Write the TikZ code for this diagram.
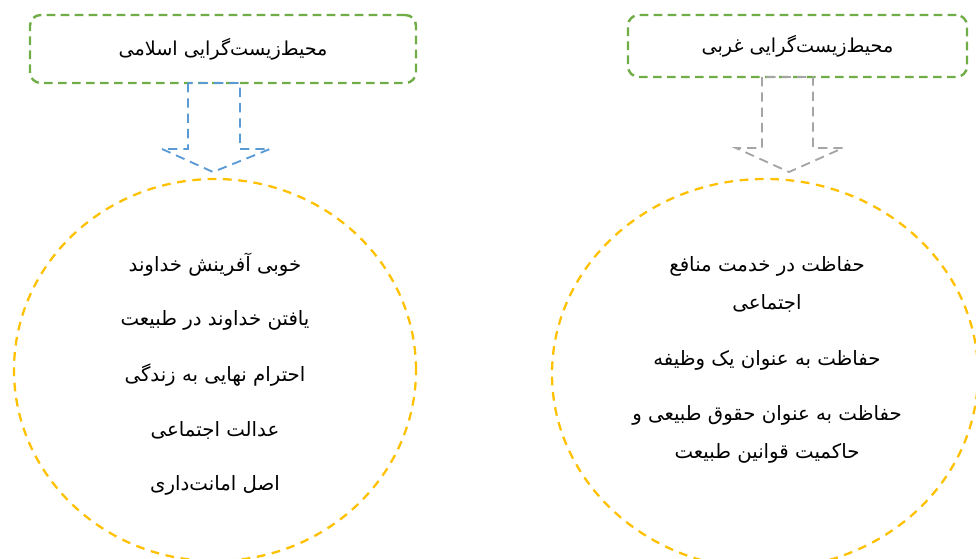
\documentclass[tikz,border=0pt]{standalone}
\usepackage{fontspec}
\usetikzlibrary{shapes.geometric}
\TeXXeTstate=1
\newfontfamily\arabicfont[Script=Arabic]{DejaVu Sans}
\definecolor{boxgreen}{HTML}{70AD47}
\definecolor{arrblue}{HTML}{5B9BD5}
\definecolor{arrgray}{HTML}{A5A5A5}
\definecolor{circyellow}{HTML}{FFC000}
\tikzset{
  topbox/.style={draw=boxgreen, line width=1.8pt, dash pattern=on 6.5pt off 4pt,
    rounded corners=8pt, inner sep=0pt, font=\arabicfont\fontsize{14.4}{17}\selectfont},
  bigcirc/.style={ellipse, draw=circyellow, line width=1.7pt, dash pattern=on 6.5pt off 5pt, inner sep=0pt},
  blockarrow/.style={line width=1.4pt, dash pattern=on 7pt off 4.5pt},
  itemtext/.style={font=\arabicfont\fontsize{14.8}{28.5}\selectfont, align=center, inner sep=0pt}
}
\begin{document}
\begin{tikzpicture}[x=0.75pt,y=-0.75pt]
\useasboundingbox (0,0) rectangle (976,559);
\clip (0,0) rectangle (976,559);
% top boxes
\node[topbox, minimum width=289.5pt, minimum height=51pt] (lbox) at (223,49) {\beginR محیط‌زیست‌گرایی اسلامی\endR};
\node[topbox, minimum width=254.25pt, minimum height=46.5pt] (rbox) at (797.5,46) {\beginR محیط‌زیست‌گرایی غربی\endR};
% big circles
\node[bigcirc, minimum width=301.5pt, minimum height=286.5pt] (lcirc) at (215,370) {};
\node[bigcirc, minimum width=319.5pt, minimum height=292.5pt] (rcirc) at (765,374) {};
% block arrows
\draw[blockarrow, draw=arrblue] (188,83) -- (188,149) -- (162,149) -- (213,172) -- (270,149) -- (240,149) -- (240,83) -- cycle;
\draw[blockarrow, draw=arrgray] (762,77) -- (762,148) -- (736,148) -- (789,172) -- (843,148) -- (813,148) -- (813,77) -- cycle;
% left texts
\node[itemtext] (l1) at (215,265) {\beginR خوبی آفرینش خداوند\endR};
\node[itemtext] (l2) at (215,320) {\beginR یافتن خداوند در طبیعت\endR};
\node[itemtext] (l3) at (215,375) {\beginR احترام نهایی به زندگی\endR};
\node[itemtext] (l4) at (215,430) {\beginR عدالت اجتماعی\endR};
\node[itemtext] (l5) at (215,485) {\beginR اصل امانت‌داری\endR};
% right texts
\node[itemtext] (r1) at (767,284) {\beginR حفاظت در خدمت منافع\endR\\\beginR اجتماعی\endR};
\node[itemtext] (r2) at (767,360) {\beginR حفاظت به عنوان یک وظیفه\endR};
\node[itemtext] (r3) at (767,434) {\beginR حفاظت به عنوان حقوق طبیعی و\endR\\\beginR حاکمیت قوانین طبیعت\endR};
\end{tikzpicture}
\end{document}
